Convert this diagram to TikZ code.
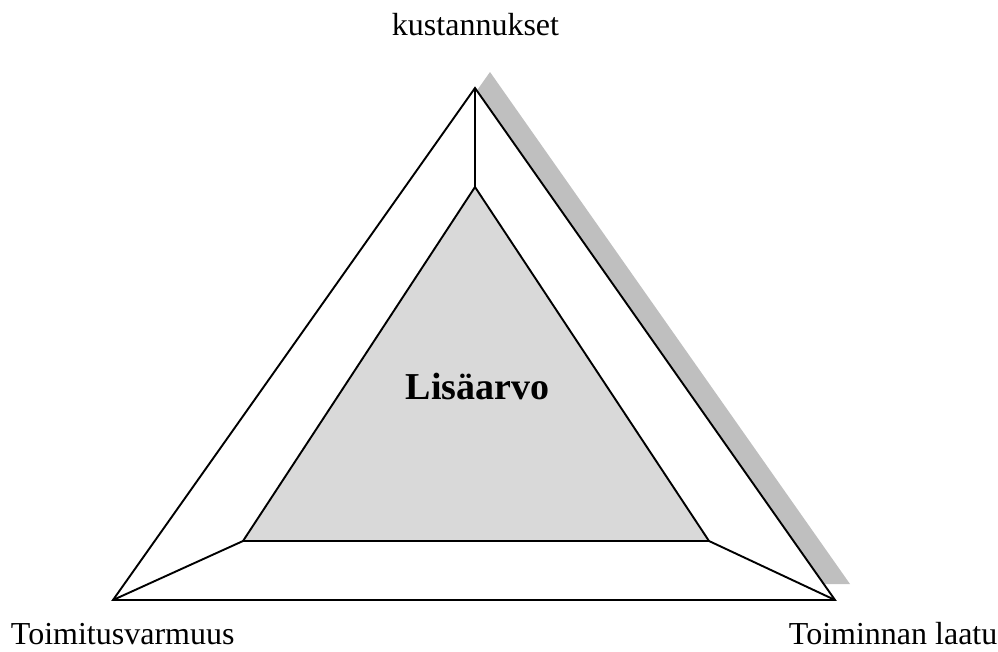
\documentclass[tikz,border=0pt]{standalone}
\usepackage{fontspec}
\setmainfont{Liberation Serif}
\begin{document}
\begin{tikzpicture}[x=1pt, y=-1pt, line width=1.9pt, line join=miter,
	txt/.style={font=\fontsize{32}{38}\selectfont, inner sep=0pt, anchor=base}]
	\useasboundingbox (0,0) rectangle (998,651);
	% corners of the two triangles
	\coordinate (top) at (475,88);
	\coordinate (left) at (113,600);
	\coordinate (right) at (835,600);
	\coordinate (itop) at (475,187);
	\coordinate (ileft) at (243,541);
	\coordinate (iright) at (709,541);
	% shadow
	\fill[black!25] ([shift={(15,-16)}]top)--([shift={(15,-16)}]right)--([shift={(15,-16)}]left)--cycle;
	\filldraw[fill=white] (top)--(right)--(left)--cycle;
	\filldraw[fill=black!15] (itop)--(iright)--(ileft)--cycle;
	\foreach \c in {top,left,right}\draw (\c)--(i\c);
	\node[txt] (cost) at (475.5,35) {kustannukset};
	\node[txt, anchor=base west] (supply) at (10,644) {Toimitusvarmuus};
	\node[txt, anchor=base west] (quality) at (788,644) {Toiminnan laatu};
	\node[txt, font=\bfseries\fontsize{38}{45}\selectfont] (value) at (477.5,399) {Lisäarvo};
\end{tikzpicture}
\end{document}
